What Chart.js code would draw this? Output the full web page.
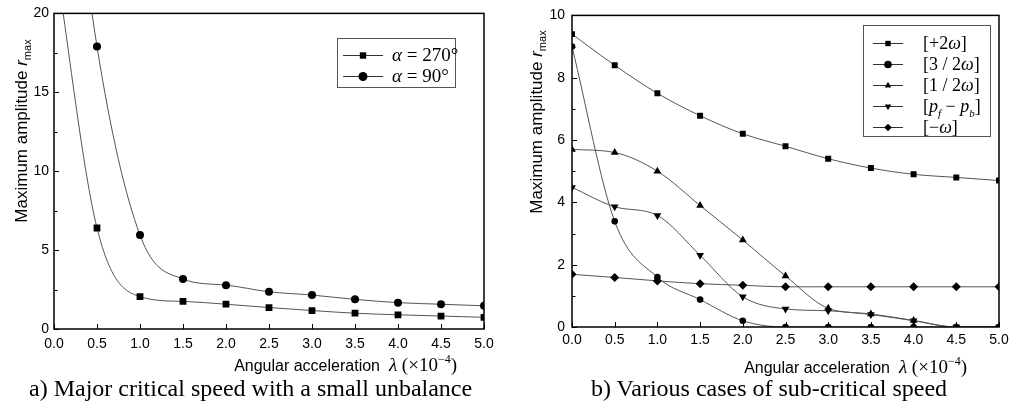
<!DOCTYPE html>
<html>
<head>
<meta charset="utf-8">
<script src="https://cdn.jsdelivr.net/npm/chart.js@4/dist/chart.umd.min.js"></script>
<style>
  body { margin:0; background:#fff; width:1014px; height:407px; position:relative; overflow:hidden; }
  #left-wrap { position:absolute; left:0; top:0; width:505px; height:407px; }
  #right-wrap { position:absolute; left:505px; top:0; width:509px; height:407px; }
  .caption { position:absolute; top:375px; font-family:"Liberation Serif", "Times New Roman", serif; font-size:24px; color:#000; white-space:nowrap; }
</style>
</head>
<body>
<div id="left-wrap"><canvas id="left" width="505" height="407"></canvas></div>
<div id="right-wrap"><canvas id="right" width="509" height="407"></canvas></div>
<div class="caption" style="left:29px">a) Major critical speed with a small unbalance</div>
<div class="caption" style="left:591px">b) Various cases of sub-critical speed</div>
<script>
// angular acceleration lambda (x10^-4)
var lambda = [0, 0.5, 1.0, 1.5, 2.0, 2.5, 3.0, 3.5, 4.0, 4.5, 5.0];

// a) major critical speed (first value lies above the plot and is clipped)
var leftNames = ['α = 270°', 'α = 90°'];
var alpha270 = [24, 6.4, 2.05, 1.75, 1.57, 1.36, 1.17, 1.0, 0.9, 0.82, 0.74];
var alpha90 = [40, 17.9, 5.95, 3.17, 2.78, 2.36, 2.15, 1.88, 1.67, 1.57, 1.47];

// b) sub-critical speed
var rightNames = ['[+2ω]', '[3 / 2ω]', '[1 / 2ω]', '[p_f − p_b]', '[−ω]'];
var plus2w = [9.4, 8.4, 7.5, 6.78, 6.2, 5.8, 5.4, 5.1, 4.9, 4.8, 4.7];
var threeHalfW = [9.0, 3.39, 1.6, 0.88, 0.2, 0, 0, 0, 0, 0, 0];
var halfW = [5.7, 5.6, 5.0, 3.9, 2.79, 1.64, 0.6, 0.42, 0.21, 0, 0];
var pfMinusPb = [4.48, 3.86, 3.58, 2.3, 0.97, 0.58, 0.52, 0.4, 0.2, 0, 0];
var minusW = [1.69, 1.59, 1.48, 1.39, 1.34, 1.29, 1.29, 1.29, 1.29, 1.29, 1.29];

var SANS = '"Liberation Sans", Arial, sans-serif';
var SERIF = '"Liberation Serif", "Times New Roman", serif';

function toPoints(arr){
  return lambda.map(function(x, i){ return {x: x, y: arr[i]}; });
}

function mkDataset(label, arr, style, radius, rotation){
  return {
    label: label,
    data: toPoints(arr),
    borderColor: '#555',
    borderWidth: 1,
    backgroundColor: '#000',
    pointBackgroundColor: '#000',
    pointBorderColor: '#000',
    pointBorderWidth: 0,
    pointStyle: style,
    pointRadius: radius,
    pointRotation: rotation || 0,
    cubicInterpolationMode: 'monotone',
    clip: 0
  };
}

// draws a list of text pieces {t, f, dy} one after another
function drawRich(ctx, parts, x, y, align){
  var total = 0;
  parts.forEach(function(p){ ctx.font = p.f; p.w = ctx.measureText(p.t).width; total += p.w; });
  var cx = x;
  if(align === 'center') cx = x - total/2;
  if(align === 'right') cx = x - total;
  ctx.textAlign = 'left';
  ctx.textBaseline = 'alphabetic';
  parts.forEach(function(p){
    ctx.font = p.f;
    ctx.fillText(p.t, cx, y + (p.dy || 0));
    cx += p.w;
  });
}

// legend label -> pieces, greek letters and p in italic, _x for subscript
function mathParts(str, size){
  var parts = [];
  for(var i = 0; i < str.length; i++){
    var c = str[i];
    if(c === '_'){
      parts.push({t: str[i+1], f: 'italic ' + Math.round(size*0.62) + 'px ' + SERIF, dy: size*0.28});
      i++;
      continue;
    }
    var ital = 'αωp'.indexOf(c) >= 0;
    parts.push({t: c, f: (ital ? 'italic ' : '') + size + 'px ' + SERIF});
  }
  return parts;
}

var framePlugin = {
  id: 'frame',
  afterDatasetsDraw: function(chart, args, opts){
    var ctx = chart.ctx;
    var a = chart.chartArea;
    var xs = chart.scales.x, ys = chart.scales.y;
    ctx.save();
    ctx.strokeStyle = '#000';
    ctx.lineWidth = 1.5;
    ctx.strokeRect(a.left, a.top, a.right - a.left, a.bottom - a.top);

    // inward ticks
    ctx.lineWidth = 1;
    ctx.beginPath();
    xs.ticks.forEach(function(t){
      var px = Math.round(xs.getPixelForValue(t.value)) + 0.5;
      ctx.moveTo(px, a.bottom); ctx.lineTo(px, a.bottom - 5);
    });
    ys.ticks.forEach(function(t, i){
      var py = Math.round(ys.getPixelForValue(t.value)) + 0.5;
      ctx.moveTo(a.left, py); ctx.lineTo(a.left + 5, py);
      if(i < ys.ticks.length - 1){
        var pm = Math.round(ys.getPixelForValue((t.value + ys.ticks[i+1].value)/2)) + 0.5;
        ctx.moveTo(a.left, pm); ctx.lineTo(a.left + 3.5, pm);
      }
    });
    ctx.stroke();

    ctx.fillStyle = '#000';
    // x title
    drawRich(ctx, [
      {t: 'Angular acceleration  ', f: '16px ' + SANS},
      {t: 'λ', f: 'italic 19px ' + SERIF},
      {t: ' (×10', f: '19px ' + SERIF},
      {t: '−4', f: '12px ' + SERIF, dy: -8},
      {t: ')', f: '19px ' + SERIF}
    ], a.right - opts.xTitleInset, opts.xTitleY, 'right');

    // y title
    ctx.save();
    ctx.translate(opts.yTitleX, opts.yTitleY);
    ctx.rotate(-Math.PI/2);
    drawRich(ctx, [
      {t: 'Maximum amplitude ', f: '17px ' + SANS},
      {t: 'r', f: 'italic 17px ' + SANS},
      {t: 'max', f: '11px ' + SANS, dy: 4}
    ], 0, 0, 'center');
    ctx.restore();

    // legend box
    var L = opts.legend;
    ctx.fillStyle = '#fff';
    ctx.fillRect(L.x, L.y, L.w, L.h);
    ctx.strokeStyle = '#555';
    ctx.lineWidth = 1;
    ctx.strokeRect(L.x + 0.5, L.y + 0.5, L.w, L.h);
    chart.data.datasets.forEach(function(ds, i){
      var ry = L.y + L.first + i * L.rowH;
      ctx.strokeStyle = '#333';
      ctx.lineWidth = 1;
      ctx.beginPath();
      ctx.moveTo(L.x + L.line0, ry + 0.5); ctx.lineTo(L.x + L.line1, ry + 0.5);
      ctx.stroke();
      ctx.fillStyle = '#000';
      Chart.helpers.drawPoint(ctx, {
        pointStyle: ds.pointStyle, radius: L.markerRadius, rotation: ds.pointRotation, borderWidth: 0
      }, L.x + (L.line0 + L.line1)/2, ry + 0.5);
      ctx.fillStyle = '#000';
      drawRich(ctx, mathParts(ds.label, L.fontSize), L.x + L.text, ry + L.fontSize*0.33, 'left');
    });
    ctx.restore();
  }
};

function makeChart(id, datasets, yMax, yStep, frame){
  var ctx = document.getElementById(id).getContext('2d');
  return new Chart(ctx, {
    type: 'line',
    data: { datasets: datasets },
    plugins: [framePlugin],
    options: {
      responsive: false,
      animation: false,
      layout: { padding: { left: 0, top: frame.top, right: frame.right, bottom: 0 } },
      plugins: { legend: { display: false }, tooltip: { enabled: false }, frame: frame },
      scales: {
        x: {
          type: 'linear', min: 0, max: 5,
          grid: { display: false, drawTicks: false }, border: { display: false },
          ticks: { stepSize: 0.5, padding: frame.xPad, color: '#000', font: { family: SANS, size: 14 },
                   callback: function(v){ return v.toFixed(1); } },
          afterFit: function(s){ s.height = 407 - frame.bottom; }
        },
        y: {
          min: 0, max: yMax,
          grid: { display: false, drawTicks: false }, border: { display: false },
          ticks: { stepSize: yStep, padding: frame.yPad, color: '#000', font: { family: SANS, size: 14 } },
          afterFit: function(s){ s.width = frame.left; }
        }
      }
    }
  });
}

makeChart('left', [
  mkDataset(leftNames[0], alpha270, 'rect', 4.8),
  mkDataset(leftNames[1], alpha90, 'circle', 4)
], 20, 5, {
  left: 54, top: 13, right: 21, bottom: 329, xPad: 7, yPad: 5,
  xTitleInset: 27, xTitleY: 371, yTitleX: 27, yTitleY: 131,
  legend: { x: 337, y: 38, w: 118, h: 49, first: 17, rowH: 21, line0: 6, line1: 46, text: 55, markerRadius: 4.5, fontSize: 19 }
});

makeChart('right', [
  mkDataset(rightNames[0], plus2w, 'rect', 4.2),
  mkDataset(rightNames[1], threeHalfW, 'circle', 3.3),
  mkDataset(rightNames[2], halfW, 'triangle', 4.5),
  mkDataset(rightNames[3], pfMinusPb, 'triangle', 4.5, 180),
  mkDataset(rightNames[4], minusW, 'rectRot', 4.5)
], 10, 2, {
  left: 67, top: 13, right: 15, bottom: 327, xPad: 5, yPad: 7,
  xTitleInset: 32, xTitleY: 373, yTitleX: 37, yTitleY: 122,
  legend: { x: 358, y: 25, w: 127, h: 111, first: 18, rowH: 21, line0: 10, line1: 40, text: 60, markerRadius: 3.8, fontSize: 18 }
});
</script>
</body>
</html>
